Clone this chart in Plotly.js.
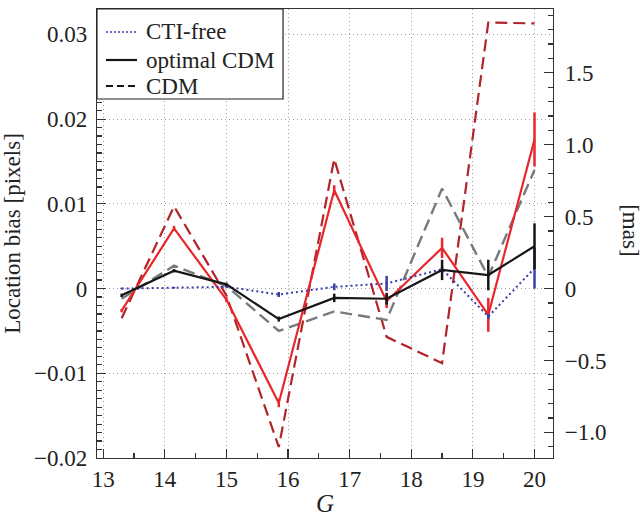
<!DOCTYPE html>
<html>
<head>
<meta charset="utf-8">
<script src="https://cdn.plot.ly/plotly-3.0.1.min.js"></script>
<style>html,body{margin:0;padding:0;background:#fff;}#chart{width:644px;height:517px;}</style>
</head>
<body>
<div id="chart"></div>
<script>
// Magnitude bins (G)
const G = [13.3, 14.15, 15.0, 15.85, 16.75, 17.6, 18.5, 19.25, 20.0];
// Location bias [pixels]
const ctiFree    = [0.0, 0.0001, 0.0002, -0.0007, 0.0002, 0.0006, 0.0023, -0.0033, 0.0024];
const ctiFreeErr = [0.0001, 0.0001, 0.0001, 0.0003, 0.0004, 0.0009, 0.0003, 0.0003, 0.0024];
const optimalCDM    = [-0.0008, 0.0021, 0.0005, -0.0036, -0.0011, -0.0012, 0.0022, 0.0016, 0.0050];
const optimalCDMErr = [0.0002, 0.0002, 0.0002, 0.0003, 0.0005, 0.0007, 0.0012, 0.0018, 0.0027];
const optimalCDM2    = [-0.0026, 0.0071, -0.0013, -0.0135, 0.0116, -0.0015, 0.0048, -0.0031, 0.0176];
const optimalCDM2Err = [0.0002, 0.0003, 0.0003, 0.0005, 0.0006, 0.0008, 0.0012, 0.0020, 0.0032];
const cdm  = [-0.0035, 0.0097, -0.0008, -0.0187, 0.0153, -0.0057, -0.0088, 0.0314, 0.0313];
const cdm2 = [-0.0012, 0.0027, 0.0003, -0.0050, -0.0027, -0.0037, 0.0118, 0.0014, 0.0140];

const legendNames = ['CTI-free', 'optimal CDM', 'CDM'];
const xTicks = [13, 14, 15, 16, 17, 18, 19, 20];
const yTicks = [-0.02, -0.01, 0, 0.01, 0.02, 0.03];
const yTickText = ['\u22120.02', '\u22120.01', '0', '0.01', '0.02', '0.03'];
const y2Ticks = [-1.0, -0.5, 0, 0.5, 1.0, 1.5];
const y2TickText = ['\u22121.0', '\u22120.5', '0', '0.5', '1.0', '1.5'];
const masPerPixel = 58.9;

const yRange = [-0.0200, 0.0330];
const FONT = 'Liberation Serif';

function err(arr, color) {
  return {type: 'data', array: arr, visible: true, width: 0, thickness: 2.5, color: color};
}

const traces = [
  {x: G, y: cdm, mode: 'lines', showlegend: false,
   line: {color: '#b0242a', width: 2.2, dash: '12px,6px'}},
  {x: G, y: cdm2, mode: 'lines', showlegend: false,
   line: {color: '#767a7e', width: 2.4, dash: '12px,6px'}},
  {x: G, y: optimalCDM2, mode: 'lines', showlegend: false,
   line: {color: '#e8272c', width: 2.2}, error_y: err(optimalCDM2Err, '#e8272c')},
  {x: G, y: ctiFree, mode: 'lines', showlegend: false,
   line: {color: '#3a3fa8', width: 2, dash: '2px,3px'}, error_y: err(ctiFreeErr, '#3a3fa8')},
  {x: G, y: optimalCDM, mode: 'lines', showlegend: false,
   line: {color: '#161616', width: 2.2}, error_y: err(optimalCDMErr, '#161616')},
  {x: [null], y: [null], yaxis: 'y2', mode: 'lines', showlegend: false, hoverinfo: 'skip'}
];

// Hand-built legend box (matplotlib style: tight rows, square border)
const legendStyles = [
  {color: '#3a3fa8', width: 1.6, dash: '2px,2px'},
  {color: '#161616', width: 2.2, dash: 'solid'},
  {color: '#161616', width: 2.0, dash: '7px,4px'}
];
const legendRowsY = [0.9488, 0.8864, 0.8285];
const shapes = [{
  type: 'rect', xref: 'paper', yref: 'paper', x0: 0, x1: 0.408, y0: 0.7996, y1: 1,
  fillcolor: '#fff', line: {color: '#222', width: 1.2}, layer: 'above'
}];
const annotations = [];
legendNames.forEach((name, i) => {
  shapes.push({type: 'line', xref: 'paper', yref: 'paper', x0: 0.0197, x1: 0.0877,
    y0: legendRowsY[i], y1: legendRowsY[i], line: legendStyles[i], layer: 'above'});
  annotations.push({text: name, xref: 'paper', yref: 'paper', x: 0.103, y: legendRowsY[i],
    xanchor: 'left', yanchor: 'middle', showarrow: false,
    font: {family: FONT, size: 23, color: '#222'}});
});
annotations.push({
  text: '[mas]', xref: 'paper', yref: 'paper', x: 1.2, y: 0.508,
  showarrow: false, textangle: 90, font: {family: FONT, size: 23, color: '#222'}
});

const axisCommon = {
  showline: true, linecolor: '#333', linewidth: 1.2,
  ticks: 'inside', ticklen: 9, tickwidth: 1.2, tickcolor: '#333',
  tickfont: {family: FONT, size: 23, color: '#222'},
  zeroline: false
};

const layout = {
  width: 644, height: 517,
  margin: {l: 97, r: 91, t: 9, b: 59, pad: 0},
  paper_bgcolor: '#fff', plot_bgcolor: '#fff',
  font: {family: FONT, size: 22, color: '#222'},
  showlegend: false,
  xaxis: Object.assign({}, axisCommon, {
    range: [12.9, 20.3], tickvals: xTicks, mirror: true,
    showgrid: true, gridcolor: '#a0a0a0', griddash: '1px,3px', gridwidth: 1,
    minor: {dtick: 0.5, tick0: 13, ticks: 'inside', ticklen: 5, tickcolor: '#333', showgrid: false},
    title: {text: '<i>G</i>', font: {family: FONT, size: 25, color: '#222'}, standoff: 6}
  }),
  yaxis: Object.assign({}, axisCommon, {
    range: yRange, tickvals: yTicks, ticktext: yTickText, mirror: true,
    showgrid: true, gridcolor: '#a0a0a0', griddash: '1px,3px', gridwidth: 1,
    ticklabelstandoff: 4,
    minor: {dtick: 0.001, tick0: 0, ticks: 'inside', ticklen: 5, tickcolor: '#333', showgrid: false},
    title: {text: 'Location bias [pixels]', font: {family: FONT, size: 23, color: '#222'}, standoff: 7}
  }),
  yaxis2: Object.assign({}, axisCommon, {
    overlaying: 'y', side: 'right',
    range: [yRange[0] * masPerPixel, yRange[1] * masPerPixel],
    tickvals: y2Ticks, ticktext: y2TickText, showgrid: false,
    ticklabelstandoff: 6,
    minor: {dtick: 0.1, tick0: 0, ticks: 'inside', ticklen: 5, tickcolor: '#333', showgrid: false}
  }),
  shapes: shapes,
  annotations: annotations
};

Plotly.newPlot('chart', traces, layout, {displayModeBar: false, staticPlot: true});
</script>
</body>
</html>
